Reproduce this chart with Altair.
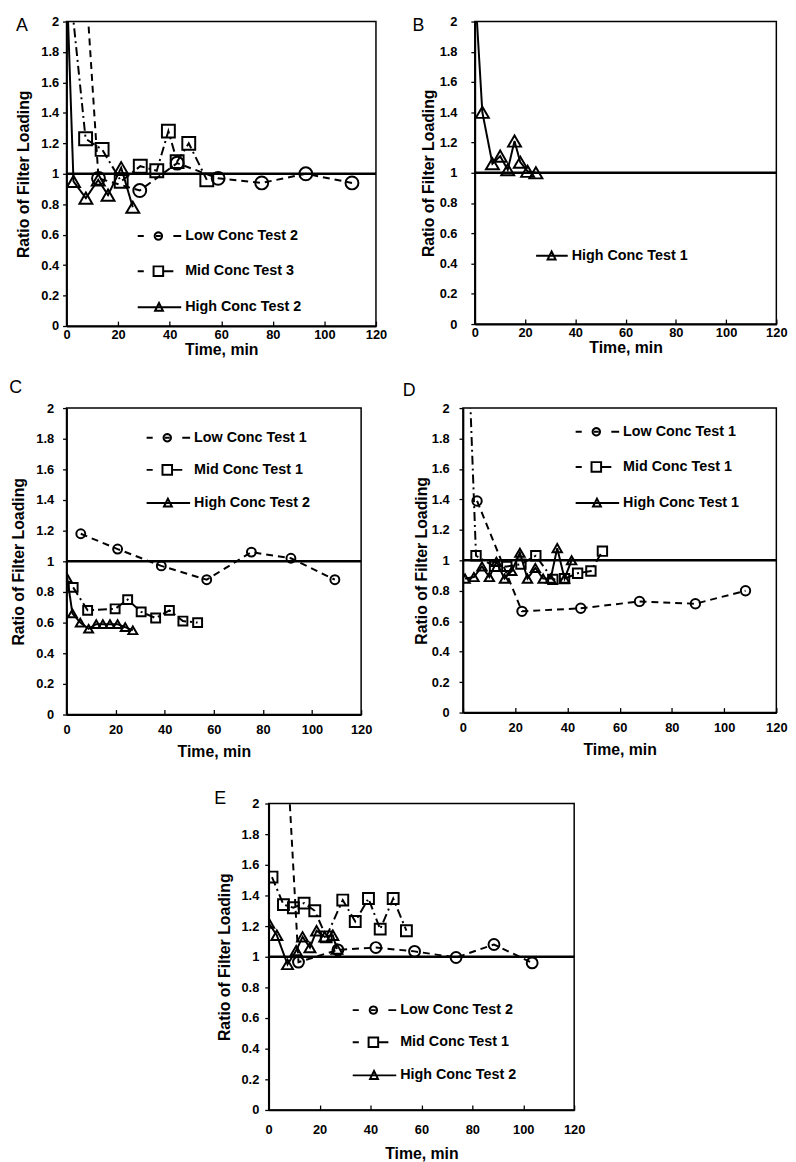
import math
import altair as alt
import pandas as pd

# ---------------- data ----------------
panel_letters = ["A", "B", "C", "D", "E"]
x_ticks = [0, 20, 40, 60, 80, 100, 120]
y_ticks = [0, 0.2, 0.4, 0.6, 0.8, 1.0, 1.2, 1.4, 1.6, 1.8, 2.0]
reference_ratio = [1.0]

# Panel A
a_labels = ["Low Conc Test 2", "Mid Conc Test 3", "High Conc Test 2"]
a_low_t = [5.0, 12.4, 28.4, 42.9, 58.8, 75.7, 92.8, 110.7]
a_low_r = [2.9, 0.97, 0.89, 1.07, 0.97, 0.94, 1.0, 0.94]
a_mid_t = [1.5, 7.4, 13.8, 21.2, 28.6, 35.0, 39.5, 42.9, 47.4, 54.4]
a_mid_r = [2.2, 1.23, 1.16, 0.95, 1.05, 1.02, 1.28, 1.08, 1.20, 0.96]
a_high_t = [0.3, 2.7, 7.5, 12.3, 16.1, 21.2, 25.7]
a_high_r = [2.15, 0.95, 0.84, 0.96, 0.86, 1.04, 0.78]

# Panel B
b_labels = ["High Conc Test 1"]
b_high_t = [0.5, 3.0, 7.0, 10.1, 13.1, 15.8, 18.1, 21.0, 24.3]
b_high_r = [2.1, 1.40, 1.06, 1.11, 1.02, 1.21, 1.07, 1.01, 1.00]

# Panel C
c_labels = ["Low Conc Test 1", "Mid Conc Test 1", "High Conc Test 2"]
c_low_t = [5.8, 20.8, 38.6, 57.1, 75.3, 91.4, 109.3]
c_low_r = [1.18, 1.08, 0.97, 0.88, 1.06, 1.02, 0.88]
c_mid_t = [2.7, 8.6, 19.8, 24.9, 30.4, 36.3, 41.9, 47.4, 53.4]
c_mid_r = [0.83, 0.68, 0.69, 0.75, 0.67, 0.63, 0.68, 0.61, 0.60]
c_high_t = [0.3, 2.4, 5.6, 9.0, 12.1, 14.8, 17.7, 20.8, 23.9, 27.0]
c_high_r = [0.89, 0.66, 0.60, 0.56, 0.59, 0.59, 0.59, 0.59, 0.57, 0.55]

# Panel D
d_labels = ["Low Conc Test 1", "Mid Conc Test 1", "High Conc Test 1"]
d_low_t = [5.4, 22.6, 45.1, 67.6, 89.0, 108.2]
d_low_r = [1.39, 0.665, 0.685, 0.73, 0.715, 0.80]
d_mid_t = [2.5, 5.0, 12.1, 16.8, 22.2, 27.9, 34.4, 38.9, 43.9, 49.0, 53.4]
d_mid_r = [2.18, 1.03, 0.96, 0.96, 0.975, 1.03, 0.875, 0.88, 0.915, 0.93, 1.06]
d_high_t = [0.8, 4.2, 7.3, 10.1, 12.8, 15.9, 18.7, 21.8, 24.7, 27.7, 30.7, 33.6, 36.1, 38.9, 41.6]
d_high_r = [0.88, 0.89, 0.96, 0.89, 0.99, 0.88, 0.93, 1.05, 0.88, 0.95, 0.88, 0.88, 1.08, 0.88, 1.0]

# Panel E
e_labels = ["Low Conc Test 2", "Mid Conc Test 1", "High Conc Test 2"]
e_low_t = [5.0, 11.7, 27.2, 42.1, 57.3, 73.6, 88.5, 103.5]
e_low_r = [3.0, 0.965, 1.045, 1.06, 1.035, 0.995, 1.08, 0.96]
e_mid_t = [1.3, 5.8, 9.7, 13.9, 18.1, 22.6, 29.1, 34.0, 39.2, 43.8, 48.9, 54.1]
e_mid_r = [1.52, 1.34, 1.32, 1.35, 1.30, 1.13, 1.37, 1.23, 1.38, 1.18, 1.38, 1.17]
e_high_t = [0.0, 3.2, 7.4, 10.8, 13.3, 16.2, 18.8, 22.0, 25.2, 26.8]
e_high_r = [1.22, 1.14, 0.95, 1.04, 1.13, 1.06, 1.17, 1.13, 1.14, 1.05]

# ---------------- styles ----------------
FONT = "Liberation Sans"
DASH = {"low": [7, 5], "mid": [9, 4, 2, 4], "high": [1, 0]}
SHAPE = {"low": "circle", "mid": "square", "high": "triangle-up"}


def _circle(cx, r, n=20):
    pts = []
    for i in range(n):
        a = 2 * math.pi * i / n
        pts.append(f"{cx + r * math.cos(a):.3f},{r * math.sin(a):.3f}")
    return "M" + "L".join(pts) + "Z"


def legend_path(kind, tri=0.18):
    if kind == "low":
        return ("M-1,0L-0.72,0" + _circle(-0.05, 0.17) +
                "M-0.16,0L0.06,0M0.64,0L1,0")
    if kind == "mid":
        return ("M-1,0L-0.72,0M-0.27,-0.22L0.17,-0.22L0.17,0.22L-0.27,0.22Z"
                "M0.17,0L0.64,0")
    return (f"M-1,0L1,0M{-0.02 - tri:.3f},{tri * 0.9:.3f}L-0.02,{-tri * 1.1:.3f}"
            f"L{-0.02 + tri:.3f},{tri * 0.9:.3f}Z")


def frame(labels, ts, rs):
    rows = []
    for lab, tt, rr in zip(labels, ts, rs):
        for a, b in zip(tt, rr):
            rows.append({"s": lab, "t": a, "r": b})
    return pd.DataFrame(rows)


def panel(letter, labels, kinds, ts, rs, w, h, msize, leg, yax, xax, let_xy,
          sym_w=44, tri=0.18):
    df = frame(labels, ts, rs)
    xs = alt.Scale(domain=[0, 120], nice=False, zero=False)
    ys = alt.Scale(domain=[0, 2], nice=False, zero=False)
    y_axis = alt.Axis(orient="left", values=y_ticks, format=".1~f",
                      title="Ratio of Filter Loading", tickSize=4,
                      labelPadding=yax[0], titlePadding=yax[1], grid=False)
    x_axis = alt.Axis(orient="bottom", values=x_ticks, title="Time, min", ticks=False,
                      labelPadding=xax[0], titlePadding=xax[1], labelFlush=False,
                      grid=False)
    x_tick_axis = alt.Axis(orient="top", offset=-h, values=x_ticks, labels=False,
                           domain=False, ticks=True, tickSize=5, title=None, grid=False)

    lines = alt.Chart(df).mark_line(color="black", strokeWidth=2, clip=True).encode(
        x=alt.X("t:Q", scale=xs, axis=x_axis),
        y=alt.Y("r:Q", scale=ys, axis=y_axis),
        strokeDash=alt.StrokeDash("s:N", scale=alt.Scale(
            domain=labels, range=[DASH[k] for k in kinds]), legend=None),
    )

    rule = alt.Chart(pd.DataFrame({"r": reference_ratio})).mark_rule(
        color="black", strokeWidth=2.5
    ).encode(y=alt.Y("r:Q", scale=ys, axis=y_axis))

    points = alt.Chart(df).mark_point(
        color="black", filled=False, size=msize, strokeWidth=2, clip=True, opacity=1
    ).encode(
        x=alt.X("t:Q", scale=xs, axis=x_tick_axis),
        y=alt.Y("r:Q", scale=ys, axis=y_axis),
        shape=alt.Shape("s:N", scale=alt.Scale(
            domain=labels, range=[SHAPE[k] for k in kinds]), legend=None),
    )

    # invisible carrier of the legend (line + marker symbols)
    legend_layer = alt.Chart(df).mark_point(opacity=0, filled=False, color="black").encode(
        x=alt.value(0),
        y=alt.value(0),
        shape=alt.Shape("s:N", scale=alt.Scale(
            domain=labels, range=[legend_path(k, tri) for k in kinds]),
            legend=alt.Legend(
                title=None, orient="none", legendX=leg[0], legendY=leg[1],
                symbolSize=sym_w * sym_w, symbolStrokeWidth=2,
                symbolStrokeColor="black", symbolFillColor="transparent",
                symbolOpacity=1, labelFont=FONT, labelFontSize=14.5,
                labelFontWeight="bold", labelColor="black", labelOffset=3,
                rowPadding=leg[2], padding=0, labelLimit=300)),
    )

    letter_layer = alt.Chart(pd.DataFrame({"L": [letter]})).mark_text(
        align="left", baseline="middle", fontSize=18, font=FONT, color="black"
    ).encode(text="L:N", x=alt.value(let_xy[0]), y=alt.value(let_xy[1]))

    return alt.layer(lines, rule, points, legend_layer, letter_layer).resolve_scale(
        shape="independent", strokeDash="independent"
    ).resolve_axis(x="independent").properties(width=w, height=h)


pA = panel(panel_letters[0], a_labels, ["low", "mid", "high"],
           [a_low_t, a_mid_t, a_high_t], [a_low_r, a_mid_r, a_high_r],
           313, 308, 170, (71, 194, 4.5), (4, 9), (3, 0), (-51, 5))
pB = panel(panel_letters[1], b_labels, ["high"], [b_high_t], [b_high_r],
           305, 306, 170, (61, 220, 4), (14, 3), (3, 0), (-63, 5),
           sym_w=32, tri=0.25)
pC = panel(panel_letters[2], c_labels, ["low", "mid", "high"],
           [c_low_t, c_mid_t, c_high_t], [c_low_r, c_mid_r, c_high_r],
           298, 310, 81, (80, 7, 1.5), (9, 9), (9, 7), (-58, -20))
pD = panel(panel_letters[3], d_labels, ["low", "mid", "high"],
           [d_low_t, d_mid_t, d_high_t], [d_low_r, d_mid_r, d_high_r],
           317, 308, 90, (113, 1, 4.5), (10, 2), (9, 7), (-61, -17))
pE = panel(panel_letters[4], e_labels, ["low", "mid", "high"],
           [e_low_t, e_mid_t, e_high_t], [e_low_r, e_mid_r, e_high_r],
           309, 310, 121, (84, 186, 1.5), (6, 9), (14, 9), (-55, -5))


def indep(c):
    return c.resolve_scale(shape="independent", strokeDash="independent").resolve_legend(
        shape="independent", strokeDash="independent")


row1 = indep(alt.hconcat(pA, pB, spacing=24))
row2 = indep(alt.hconcat(pC, pD, spacing=29))
top = indep(alt.concat(row1, row2, columns=1, align="none", spacing=20))
chart = indep(alt.vconcat(top, pE, spacing=29, center=True)).properties(
    padding=0
).configure(font=FONT).configure_axis(
    labelFont=FONT, labelFontSize=13, labelFontWeight="bold", labelColor="black",
    titleFont=FONT, titleFontSize=16, titleFontWeight="bold", titleColor="black",
    domainColor="black", domainWidth=1.8, tickColor="black", tickWidth=1.3, grid=False
).configure_view(stroke="black", strokeWidth=1.5)

chart.save("out.html", embed_options={"renderer": "svg", "actions": False})
